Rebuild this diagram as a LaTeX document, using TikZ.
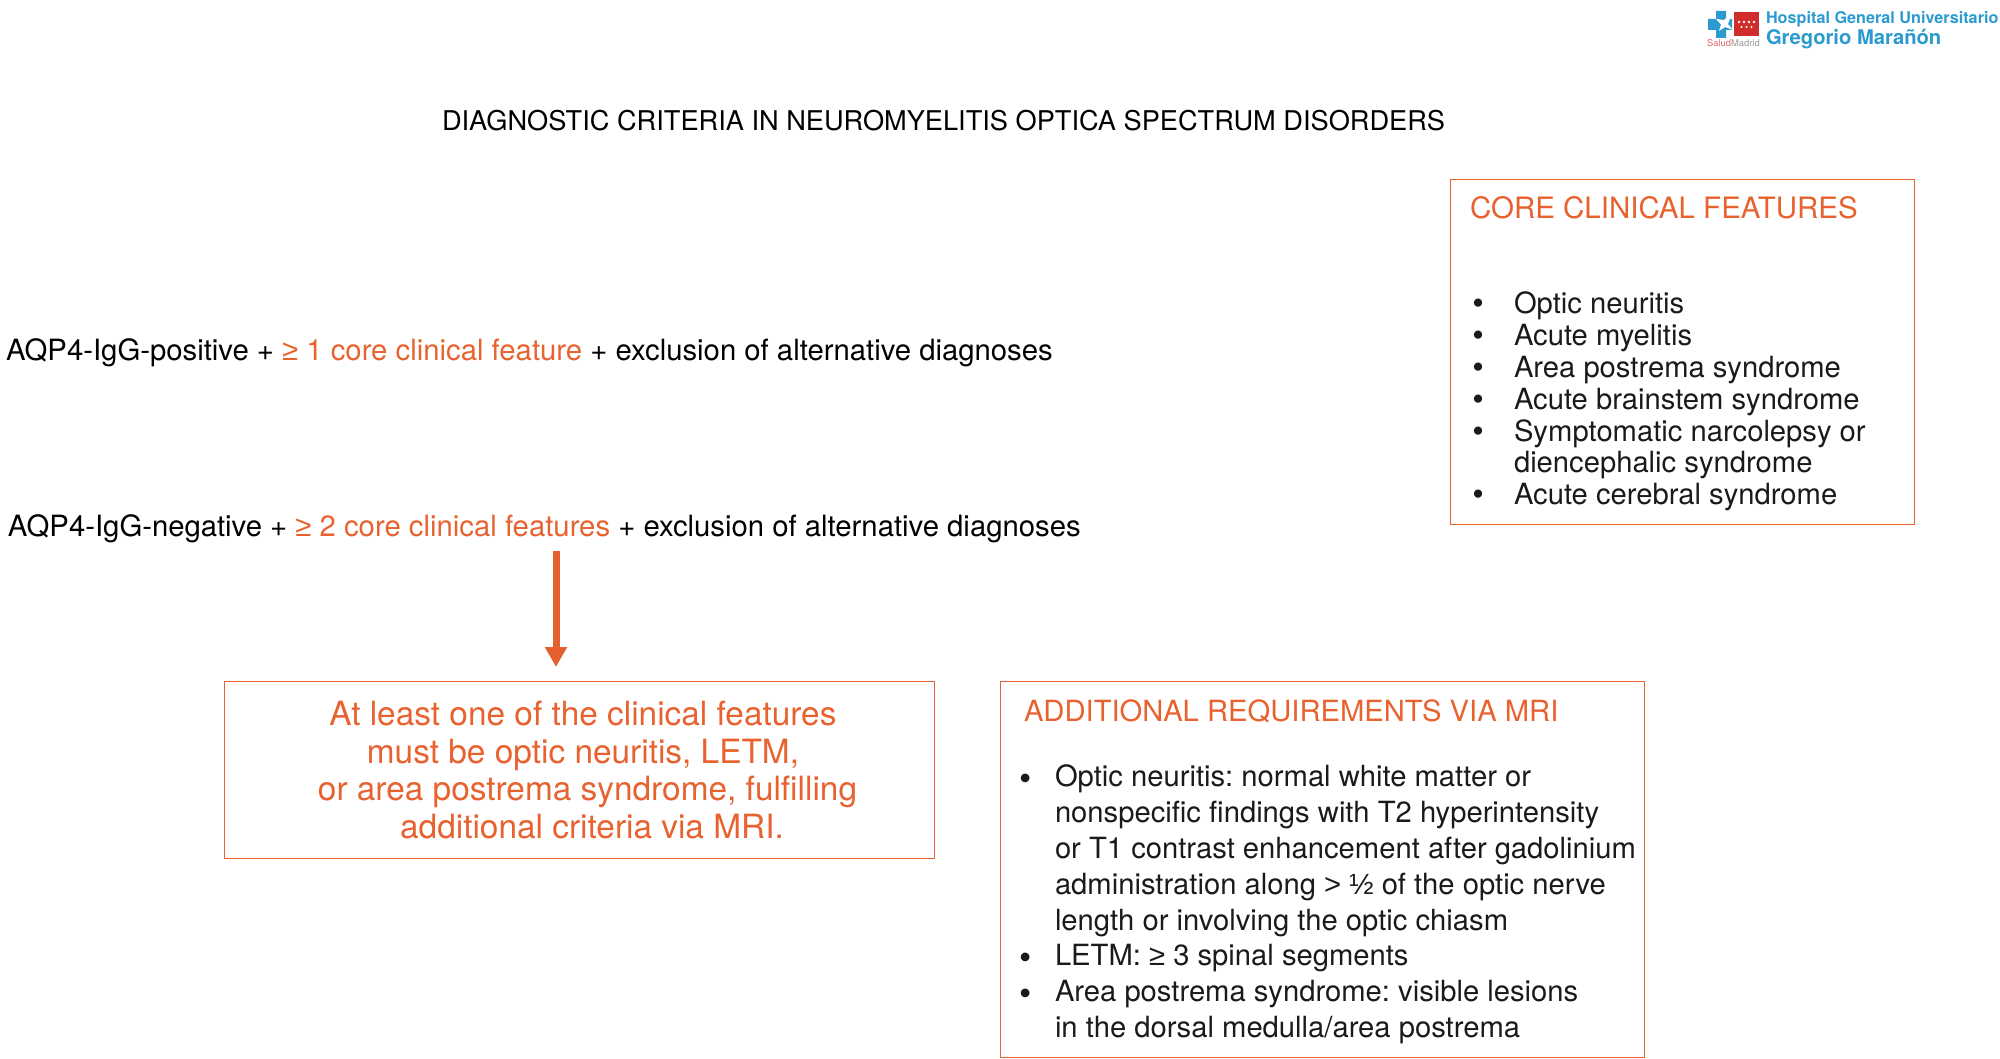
\documentclass[tikz,border=0pt]{standalone}
\usepackage{fontspec}
\setmainfont{TeX Gyre Heros}
\newfontfamily\symf{Liberation Sans}
\usetikzlibrary{arrows.meta}
\definecolor{accent}{HTML}{E8622F}
\definecolor{arrowc}{HTML}{E4602E}
\definecolor{txt}{HTML}{1A1A1A}
\definecolor{logoblue}{HTML}{2A9AD0}
\definecolor{logored}{HTML}{D02C2C}
\newcommand{\fs}[2]{\fontsize{#1pt}{#2pt}\selectfont}
\newcommand{\bu}[1]{\leavevmode\llap{\fontsize{33pt}{33pt}\selectfont\raisebox{-1pt}{\textbullet}\hspace{#1pt}}}
\newcommand{\bub}[1]{\leavevmode\llap{\fontsize{35pt}{35pt}\selectfont\raisebox{-3.5pt}{\textbullet}\hspace{#1pt}}}
\newcommand{\ac}[1]{\textcolor{accent}{#1}}
\newcommand{\sy}[1]{{\symf #1}}
\frenchspacing
\tikzset{
 x=1pt,y=-1pt,
 lbl/.style={inner sep=0pt,outer sep=0pt,anchor=base west,text=black},
 blk/.style={inner sep=0pt,outer sep=0pt,anchor=north west,align=left,text=txt},
 frame/.style={draw=accent,line width=1.4pt,fill=none,inner sep=0pt},
 flow/.style={draw=arrowc,line width=7pt,-{Triangle[width=21pt,length=20pt]},shorten >=0pt},
}
\begin{document}
\begin{tikzpicture}
\useasboundingbox (0,0) rectangle (2000,1059);
% title
\node[lbl,font=\fs{27.2}{32}] (title) at (442,131) {DIAGNOSTIC CRITERIA IN NEUROMYELITIS OPTICA SPECTRUM DISORDERS};
% left lines
\node[lbl,font=\fs{29.3}{32}] (pos) at (6,360) {AQP4-IgG-positive + \ac{\sy{≥} 1 core clinical feature} + exclusion of alternative diagnoses};
\node[lbl,font=\fs{29.3}{32}] (neg) at (8,536) {AQP4-IgG-negative + \ac{\sy{≥} 2 core clinical features} + exclusion of alternative diagnoses};
% arrow
\coordinate (arrowstart) at (556,551);
\coordinate (arrowend) at (556,667);
\draw[flow] (arrowstart) -- (arrowend);
% boxes
\node[frame,minimum width=710pt,minimum height=177pt,anchor=north west] (must) at (223.5,681) {};
\node[frame,minimum width=644pt,minimum height=376pt,anchor=north west] (mri) at (1000,681) {};
\node[frame,minimum width=464pt,minimum height=344.5pt,anchor=north west] (core) at (1450,179) {};
% must text
\node[inner sep=0pt,align=center,text=accent,font=\fs{33.4}{37.5}] (musttext) at (583,770) {At least one of the clinical features\\must be optic neuritis, LETM,\\\hspace*{9pt}or area postrema syndrome, fulfilling\\\hspace*{18pt}additional criteria via MRI.};
% core text
\node[lbl,font=\fs{29.5}{32},text=accent] (coretitle) at (1470,219) {CORE CLINICAL FEATURES};
\node[blk,font=\fs{29.2}{31.8}] (corelist) at (1514,292) {\bu{30}Optic neuritis\\\bu{30}Acute myelitis\\\bu{30}Area postrema syndrome\\\bu{30}Acute brainstem syndrome\\\bu{30}Symptomatic narcolepsy or\\diencephalic syndrome\\\bu{30}Acute cerebral syndrome};
% mri text
\node[lbl,font=\fs{29.2}{32},text=accent] (mrititle) at (1024,721) {ADDITIONAL REQUIREMENTS VIA MRI};
\node[blk,font=\fs{29.2}{35.8}] (mrilist) at (1055,765) {\bub{23}Optic neuritis: normal white matter or\\nonspecific findings with T2 hyperintensity\\or T1 contrast enhancement after gadolinium\\administration along \sy{>} \sy{½} of the optic nerve\\length or involving the optic chiasm\\\bub{23}LETM: \sy{≥} 3 spinal segments\\\bub{23}Area postrema syndrome: visible lesions\\in the dorsal medulla/area postrema};
% logo
\fill[logored] (1734,12) rectangle (1759,36);
\foreach \i in {0,1,2,3}{\fill[white] (1739+\i*5,22) circle (1.4pt);}
\foreach \i in {0,1,2}{\fill[white] (1741.5+\i*5,27) circle (1.2pt);}
\fill[logoblue] (1716,11) -- (1726,11) -- (1726,19) -- (1732,19) -- (1732,30) -- (1726,30) -- (1726,38) -- (1716,38) -- (1716,30) -- (1708,30) -- (1708,19) -- (1716,19) -- cycle;
\fill[white] (1733,11) -- (1724,20) -- (1716,19) -- (1721,24.5) -- (1719,31) -- (1725,27) -- (1733,30) -- (1728,24) -- cycle;
\node[lbl,font=\fs{9.4}{12},text=logored!70] (salud) at (1707,47) {Salud\textcolor{gray!80}{Madrid}};
\node[lbl,font=\bfseries\fs{16.2}{20},text=logoblue] (hosp1) at (1766,24) {Hospital General Universitario};
\node[lbl,font=\bfseries\fs{20.2}{24},text=logoblue] (hosp2) at (1766,45) {Gregorio Marañón};
\end{tikzpicture}
\end{document}
